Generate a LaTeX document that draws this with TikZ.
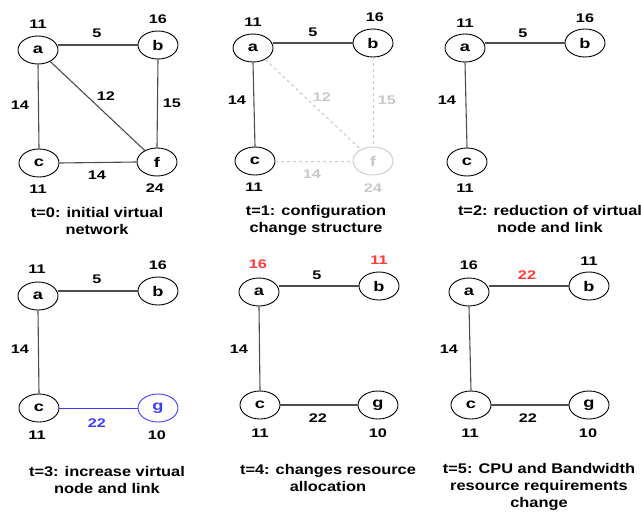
\documentclass[tikz,border=0pt]{standalone}
\usepackage{fontspec}
\setmainfont{Liberation Sans}
\usepackage{graphicx}
\usetikzlibrary{shapes.geometric}
\newcommand\sx[1]{\scalebox{1.3}[1]{#1}}
\newcommand\cx[1]{\scalebox{1.17}[1]{#1}}
\definecolor{edgegray}{HTML}{4D4D4D}
\definecolor{fadegray}{HTML}{C8C8C8}
\definecolor{newblue}{HTML}{3C3CFF}
\definecolor{chred}{HTML}{FF3838}
\tikzset{
  vnode/.style={ellipse, draw=black, line width=0.9pt, minimum width=40pt, minimum height=28pt, inner sep=0pt, font=\fontsize{14}{16}\bfseries},
  vlink/.style={draw=edgegray, line width=1.1pt},
  fadelink/.style={draw=fadegray, line width=1pt, dashed, dash pattern=on 3pt off 3pt},
  num/.style={inner sep=0pt, font=\fontsize{12.5}{15}\bfseries},
  caption/.style={inner sep=0pt, align=center, font=\fontsize{14}{17}\bfseries}
}
\begin{document}
\begin{tikzpicture}[x=1pt,y=1pt]
\useasboundingbox (0,0) rectangle (641,-512);
% ---------- t=0 ----------
\node[vnode] (a0) at (38,-50) {\sx{a}};
\node[vnode] (b0) at (158,-45) {\sx{b}};
\node[vnode] (c0) at (39,-163) {\sx{c}};
\node[vnode] (f0) at (157,-162) {\sx{f}};
\draw[vlink] (b0.west -| a0.east) -- (b0.west);
\draw[vlink] (a0.south) -- (c0.north);
\draw[vlink] (b0.south) -- (f0.north);
\draw[vlink] (c0.east) -- (f0.west);
\draw[vlink] (a0) -- (f0);
\node[num] (na0) at (38,-24) {\sx{11}};
\node[num] (nb0) at (158,-19) {\sx{16}};
\node[num] (nc0) at (38,-189) {\sx{11}};
\node[num] (nf0) at (155,-188) {\sx{24}};
\node[num] (lab0) at (97,-33) {\sx{5}};
\node[num] (lac0) at (20,-105) {\sx{14}};
\node[num] (laf0) at (106,-96) {\sx{12}};
\node[num] (lbf0) at (172,-103) {\sx{15}};
\node[num] (lcf0) at (97,-175) {\sx{14}};
\node[caption] (cap0) at (97,-221) {\cx{t=0: initial virtual}\\\cx{network}};
% ---------- t=1 ----------
\node[vnode] (a1) at (253,-48) {\sx{a}};
\node[vnode] (b1) at (373,-43) {\sx{b}};
\node[vnode] (c1) at (255,-161) {\sx{c}};
\node[vnode, draw=fadegray, text=fadegray] (f1) at (373,-161) {\sx{f}};
\draw[vlink] (b1.west -| a1.east) -- (b1.west);
\draw[vlink] (a1.south) -- (c1.north);
\draw[fadelink] (b1.south) -- (f1.north);
\draw[fadelink] (c1.east) -- (f1.west);
\draw[fadelink] (a1) -- (f1);
\node[num] (na1) at (253,-22) {\sx{11}};
\node[num] (nb1) at (375,-17) {\sx{16}};
\node[num] (nc1) at (254,-187) {\sx{11}};
\node[num, text=fadegray] (nf1) at (373,-188) {\sx{24}};
\node[num] (lab1) at (313,-32) {\sx{5}};
\node[num] (lac1) at (237,-100) {\sx{14}};
\node[num, text=fadegray] (laf1) at (322,-97) {\sx{12}};
\node[num, text=fadegray] (lbf1) at (387,-100) {\sx{15}};
\node[num, text=fadegray] (lcf1) at (312,-174) {\sx{14}};
\node[caption] (cap1) at (316,-220) {\cx{t=1: configuration}\\\cx{change structure}};
% ---------- t=2 ----------
\node[vnode] (a2) at (465,-48) {\sx{a}};
\node[vnode] (b2) at (585,-43) {\sx{b}};
\node[vnode] (c2) at (467,-162) {\sx{c}};
\draw[vlink] (b2.west -| a2.east) -- (b2.west);
\draw[vlink] (a2.south) -- (c2.north);
\node[num] (na2) at (465,-23) {\sx{11}};
\node[num] (nb2) at (585,-18) {\sx{16}};
\node[num] (nc2) at (465,-188) {\sx{11}};
\node[num] (lab2) at (523,-33) {\sx{5}};
\node[num] (lac2) at (447,-100) {\sx{14}};
\node[caption] (cap2) at (550,-219) {\cx{t=2: reduction of virtual}\\\cx{node and link}};
% ---------- t=3 ----------
\node[vnode] (a3) at (38,-296) {\sx{a}};
\node[vnode] (b3) at (158,-291) {\sx{b}};
\node[vnode] (c3) at (39,-408) {\sx{c}};
\node[vnode, draw=newblue, text=newblue] (g3) at (158,-408) {\sx{g}};
\draw[vlink] (b3.west -| a3.east) -- (b3.west);
\draw[vlink] (a3.south) -- (c3.north);
\draw[draw=newblue, line width=1pt] (c3.east) -- (g3.west);
\node[num] (na3) at (37,-269) {\sx{11}};
\node[num] (nb3) at (158,-265) {\sx{16}};
\node[num] (nc3) at (37,-435) {\sx{11}};
\node[num] (ng3) at (157,-435) {\sx{10}};
\node[num] (lab3) at (97,-279) {\sx{5}};
\node[num] (lac3) at (20,-349) {\sx{14}};
\node[num, text=newblue] (lcg3) at (97,-423) {\sx{22}};
\node[caption] (cap3) at (107,-480) {\cx{t=3: increase virtual}\\\cx{node and link}};
% ---------- t=4 ----------
\node[vnode] (a4) at (259,-292) {\sx{a}};
\node[vnode] (b4) at (379,-286) {\sx{b}};
\node[vnode] (c4) at (260,-405) {\sx{c}};
\node[vnode] (g4) at (378,-405) {\sx{g}};
\draw[vlink] (b4.west -| a4.east) -- (b4.west);
\draw[vlink] (a4.south) -- (c4.north);
\draw[vlink] (c4.east) -- (g4.west);
\node[num, text=chred] (na4) at (258,-264) {\sx{16}};
\node[num, text=chred] (nb4) at (379,-260) {\sx{11}};
\node[num] (nc4) at (260,-433) {\sx{11}};
\node[num] (ng4) at (378,-433) {\sx{10}};
\node[num] (lab4) at (317,-275) {\sx{5}};
\node[num] (lac4) at (239,-349) {\sx{14}};
\node[num] (lcg4) at (318,-418) {\sx{22}};
\node[caption] (cap4) at (328,-478) {\cx{t=4: changes resource}\\\cx{allocation}};
% ---------- t=5 ----------
\node[vnode] (a5) at (469,-292) {\sx{a}};
\node[vnode] (b5) at (589,-286) {\sx{b}};
\node[vnode] (c5) at (471,-405) {\sx{c}};
\node[vnode] (g5) at (589,-405) {\sx{g}};
\draw[vlink] (b5.west -| a5.east) -- (b5.west);
\draw[vlink] (a5.south) -- (c5.north);
\draw[vlink] (c5.east) -- (g5.west);
\node[num] (na5) at (469,-265) {\sx{16}};
\node[num] (nb5) at (589,-261) {\sx{11}};
\node[num] (nc5) at (470,-433) {\sx{11}};
\node[num] (ng5) at (588,-433) {\sx{10}};
\node[num, text=chred] (lab5) at (527,-275) {\sx{22}};
\node[num] (lac5) at (449,-349) {\sx{14}};
\node[num] (lcg5) at (528,-418) {\sx{22}};
\node[caption] (cap5) at (539,-487) {\cx{t=5: CPU and Bandwidth}\\\cx{resource requirements}\\\cx{change}};
\end{tikzpicture}
\end{document}
